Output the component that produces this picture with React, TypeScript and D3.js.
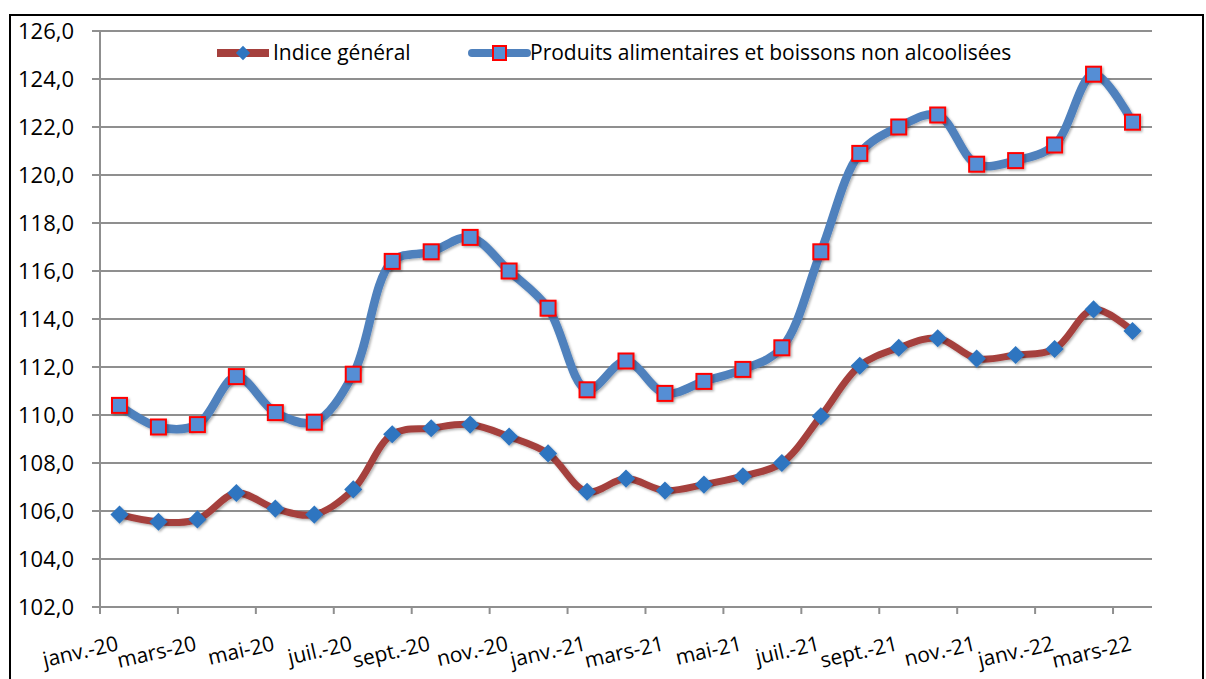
import React, { useEffect, useRef } from "react";
import * as d3 from "d3";

const months = [
  "janv.-20", "févr.-20", "mars-20", "avr.-20", "mai-20", "juin-20",
  "juil.-20", "août-20", "sept.-20", "oct.-20", "nov.-20", "déc.-20",
  "janv.-21", "févr.-21", "mars-21", "avr.-21", "mai-21", "juin-21",
  "juil.-21", "août-21", "sept.-21", "oct.-21", "nov.-21", "déc.-21",
  "janv.-22", "févr.-22", "mars-22",
];

const indiceGeneral = [
  105.85, 105.55, 105.65, 106.75, 106.1, 105.85,
  106.9, 109.2, 109.45, 109.6, 109.1, 108.4,
  106.8, 107.35, 106.85, 107.1, 107.45, 108.0,
  109.95, 112.05, 112.8, 113.2, 112.35, 112.5,
  112.75, 114.4, 113.5,
];

const produitsAlimentaires = [
  110.4, 109.5, 109.6, 111.6, 110.1, 109.7,
  111.7, 116.4, 116.8, 117.4, 116.0, 114.45,
  111.05, 112.25, 110.9, 111.4, 111.9, 112.8,
  116.8, 120.9, 122.0, 122.5, 120.45, 120.6,
  121.25, 124.2, 122.2,
];

const yTicks = [102, 104, 106, 108, 110, 112, 114, 116, 118, 120, 122, 124, 126];

const seriesNames = ["Indice général", "Produits alimentaires et boissons non alcoolisées"];

const FONT = "'Open Sans', sans-serif";

const App = () => {
  const svgRef = useRef<SVGSVGElement>(null);

  useEffect(() => {
    const svg = d3.select(svgRef.current);
    svg.selectAll("*").remove();

    const width = 1206;
    const height = 679;
    const left = 100;
    const right = 1152;
    const top = 31;
    const bottom = 607;
    const redLine = "#A5403D";
    const blueLine = "#4F81BD";
    const diamondFill = "#2E75C0";
    const squareFill = "#558ED5";
    const gridColor = "#8f8f8f";

    svg.attr("width", width).attr("height", height);

    const defs = svg.append("defs");
    const shadow = defs.append("filter").attr("id", "shadow").attr("x", "-50%").attr("y", "-50%").attr("width", "200%").attr("height", "200%");
    shadow.append("feDropShadow").attr("dx", 1.5).attr("dy", 1.5).attr("stdDeviation", 1.2).attr("flood-color", "#000").attr("flood-opacity", 0.3);

    // Frame
    svg.append("rect")
      .attr("x", 10).attr("y", 15)
      .attr("width", 1193).attr("height", 700)
      .attr("fill", "white").attr("stroke", "black").attr("stroke-width", 2);

    const xScale = d3.scaleBand().domain(months).range([left, right]).padding(0);
    const yScale = d3.scaleLinear().domain([102, 126]).range([bottom, top]);
    const cx = (m: string) => (xScale(m) as number) + xScale.bandwidth() / 2;

    // Gridlines
    svg.append("g").selectAll("line")
      .data(yTicks.filter((t) => t > 102))
      .join("line")
      .attr("x1", left).attr("x2", right)
      .attr("y1", (d) => yScale(d)).attr("y2", (d) => yScale(d))
      .attr("stroke", gridColor).attr("stroke-width", 2);

    // Y axis
    const fmt = (v: number) => d3.format(".1f")(v).replace(".", ",");
    svg.append("line")
      .attr("x1", left).attr("x2", left).attr("y1", top).attr("y2", bottom + 1)
      .attr("stroke", gridColor).attr("stroke-width", 2);
    svg.append("g").selectAll("line")
      .data(yTicks)
      .join("line")
      .attr("x1", left - 8).attr("x2", left)
      .attr("y1", (d) => yScale(d)).attr("y2", (d) => yScale(d))
      .attr("stroke", gridColor).attr("stroke-width", 2);
    svg.append("g").selectAll("text")
      .data(yTicks)
      .join("text")
      .attr("x", 74)
      .attr("y", (d) => yScale(d) + 8)
      .attr("text-anchor", "end")
      .style("font-family", FONT)
      .style("font-size", "22px")
      .attr("fill", "#000")
      .text((d) => fmt(d));

    // X axis
    svg.append("line")
      .attr("x1", left - 1).attr("x2", right).attr("y1", bottom).attr("y2", bottom)
      .attr("stroke", gridColor).attr("stroke-width", 2);
    const labelled = months.filter((_, i) => i % 2 === 0);
    svg.append("g").selectAll("line")
      .data(labelled)
      .join("line")
      .attr("x1", (d) => xScale(d) as number).attr("x2", (d) => xScale(d) as number)
      .attr("y1", bottom).attr("y2", bottom + 7)
      .attr("stroke", gridColor).attr("stroke-width", 2);
    svg.append("g").selectAll("text")
      .data(labelled)
      .join("text")
      .attr("transform", (d) => `translate(${cx(d)}, 650) rotate(-13)`)
      .attr("text-anchor", "end")
      .style("font-family", FONT)
      .style("font-size", "21px")
      .attr("fill", "#000")
      .text((d) => d);

    const curve = d3.curveCatmullRom.alpha(0.5);
    const line = (values: number[]) =>
      d3.line<number>()
        .x((_, i) => cx(months[i]))
        .y((d) => yScale(d))
        .curve(curve)(values);

    // Lines
    svg.append("path")
      .attr("d", line(produitsAlimentaires))
      .attr("fill", "none").attr("stroke", blueLine).attr("stroke-width", 8.5)
      .attr("stroke-linejoin", "round").attr("stroke-linecap", "round")
      .attr("filter", "url(#shadow)");
    svg.append("path")
      .attr("d", line(indiceGeneral))
      .attr("fill", "none").attr("stroke", redLine).attr("stroke-width", 7)
      .attr("stroke-linejoin", "round").attr("stroke-linecap", "round")
      .attr("filter", "url(#shadow)");

    // Markers
    const sq = 15;
    svg.append("g").selectAll("rect")
      .data(produitsAlimentaires)
      .join("rect")
      .attr("x", (_, i) => cx(months[i]) - sq / 2)
      .attr("y", (d) => yScale(d) - sq / 2)
      .attr("width", sq).attr("height", sq)
      .attr("fill", squareFill).attr("stroke", "#FF0000").attr("stroke-width", 2)
      .attr("filter", "url(#shadow)");

    const diamond = d3.symbol().type(d3.symbolDiamond2).size(210);
    svg.append("g").selectAll("path")
      .data(indiceGeneral)
      .join("path")
      .attr("d", diamond)
      .attr("transform", (d, i) => `translate(${cx(months[i])}, ${yScale(d)})`)
      .attr("fill", diamondFill)
      .attr("filter", "url(#shadow)");

    // Legend
    const legY = 53;
    svg.append("line")
      .attr("x1", 217).attr("x2", 269).attr("y1", legY).attr("y2", legY)
      .attr("stroke", redLine).attr("stroke-width", 8);
    svg.append("path")
      .attr("d", d3.symbol().type(d3.symbolDiamond2).size(130)())
      .attr("transform", `translate(243, ${legY})`)
      .attr("fill", diamondFill);
    svg.append("text")
      .attr("x", 273).attr("y", legY + 7)
      .style("font-family", FONT).style("font-size", "21px")
      .text(seriesNames[0]);

    svg.append("line")
      .attr("x1", 472).attr("x2", 527).attr("y1", legY).attr("y2", legY)
      .attr("stroke", blueLine).attr("stroke-width", 8).attr("stroke-linecap", "round");
    svg.append("rect")
      .attr("x", 493).attr("y", legY - 7).attr("width", 13).attr("height", 14)
      .attr("fill", squareFill).attr("stroke", "#FF0000").attr("stroke-width", 2);
    svg.append("text")
      .attr("x", 530).attr("y", legY + 7)
      .style("font-family", FONT).style("font-size", "21px")
      .text(seriesNames[1]);
  }, []);

  return <svg ref={svgRef} style={{ display: "block", position: "absolute", left: 0, top: 0 }}></svg>;
};

export default App;
